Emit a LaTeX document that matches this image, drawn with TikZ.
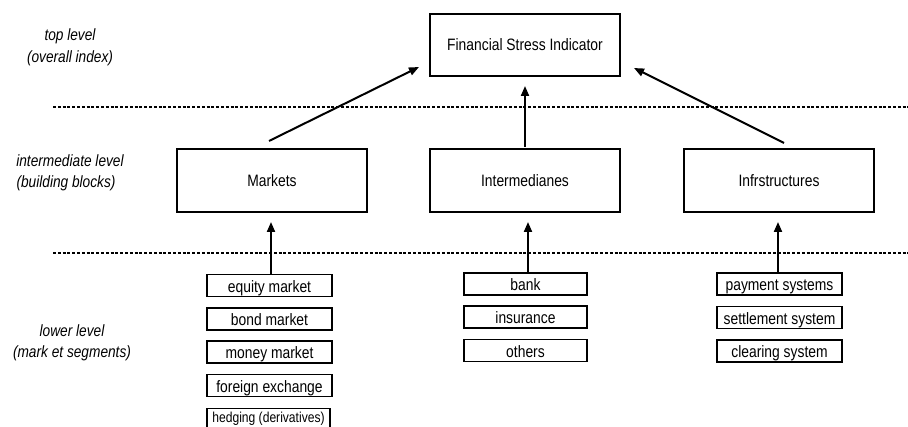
\documentclass[tikz,border=0pt]{standalone}
\usepackage{fontspec}
\setmainfont{Liberation Sans}
\newfontfamily\narrowfont[FakeStretch=0.84]{Liberation Sans}
\usetikzlibrary{arrows.meta,calc}
\tikzset{
  txt/.style={font=\narrowfont\fontsize{16.5}{18}\selectfont},
  lvl/.style={font=\narrowfont\fontsize{16.3}{18}\selectfont\itshape, inner sep=0pt, text height=12pt, text depth=3.5pt},
  bigbox/.style={draw, line width=2pt, minimum width=190pt, minimum height=62pt, inner sep=0pt, txt},
  smallbox/.style={draw, line width=1.8pt, minimum width=125pt, minimum height=22pt, inner sep=0pt, txt, text height=13.5pt, text depth=0pt},
  arr/.style={line width=2pt, -{Triangle[length=10pt,width=8pt]}},
  sep/.style={line width=1.8pt, dash pattern=on 3pt off 1.8pt}
}
\begin{document}
\begin{tikzpicture}[x=1pt,y=-1pt]
\useasboundingbox (0,0) rectangle (908,427);
% separators
\coordinate (s1a) at (53,107); \coordinate (s1b) at (908,107);
\coordinate (s2a) at (53,253); \coordinate (s2b) at (908,253);
\draw[sep] (s1a) -- (s1b);
\draw[sep] (s2a) -- (s2b);
% level labels
\node[lvl] (l1a) at (70,36) {top level};
\node[lvl] (l1b) at (70,58) {(overall index)};
\node[lvl] (l2a) at (70,162) {intermediate level};
\node[lvl] (l2b) at (66,183) {(building blocks)};
\node[lvl] (l3a) at (72,332) {lower level};
\node[lvl] (l3b) at (72,353) {(mark et segments)};
% main boxes
\node[bigbox] (fsi) at (525,45) {Financial Stress Indicator};
\node[bigbox, minimum height=63pt] (mk) at (272,180.5) {Markets};
\node[bigbox, minimum height=63pt] (im) at (525,180.5) {Intermedianes};
\node[bigbox, minimum height=63pt] (inf) at (779,180.5) {Infrstructures};
% upper arrows
\draw[arr] ($(mk.north)+(-3,-7)$) -- ($(fsi.west)+(-10,22)$);
\draw[arr] ($(im.north)+(0,-1)$) -- ($(fsi.south)+(0,9)$);
\draw[arr] ($(inf.north)+(5,-5)$) -- ($(fsi.east)+(13,23)$);
% market segments
\node[smallbox] (eq) at (269.5,285.5) {equity market};
\node[smallbox] (bd) at (269.5,319) {bond market};
\node[smallbox] (mm) at (269.5,352) {money market};
\node[smallbox] (fx) at (269.5,385.5) {foreign exchange};
\node[smallbox, minimum width=123pt, font=\narrowfont\fontsize{14.4}{16}\selectfont, text height=10pt, text depth=3pt] (hd) at (268.5,419.5) {hedging (derivatives)};
% intermediaries
\node[smallbox, minimum width=123pt] (bk) at (525.5,284) {bank};
\node[smallbox, minimum width=123pt] (ins) at (525.5,317) {insurance};
\node[smallbox, minimum width=123pt] (oth) at (525.5,350.5) {others};
% infrastructures
\node[smallbox] (pay) at (779.5,284) {payment systems};
\node[smallbox] (set) at (779.5,317.5) {settlement system};
\node[smallbox] (clr) at (779.5,351) {clearing system};
% lower arrows
\draw[arr] ($(eq.north)+(1.5,0)$) -- ($(mk.south)+(-1,9)$);
\draw[arr] ($(bk.north)+(2.5,0)$) -- ($(im.south)+(3,9)$);
\draw[arr] ($(pay.north)+(-1.5,0)$) -- ($(inf.south)+(-1,9)$);
\end{tikzpicture}
\end{document}
